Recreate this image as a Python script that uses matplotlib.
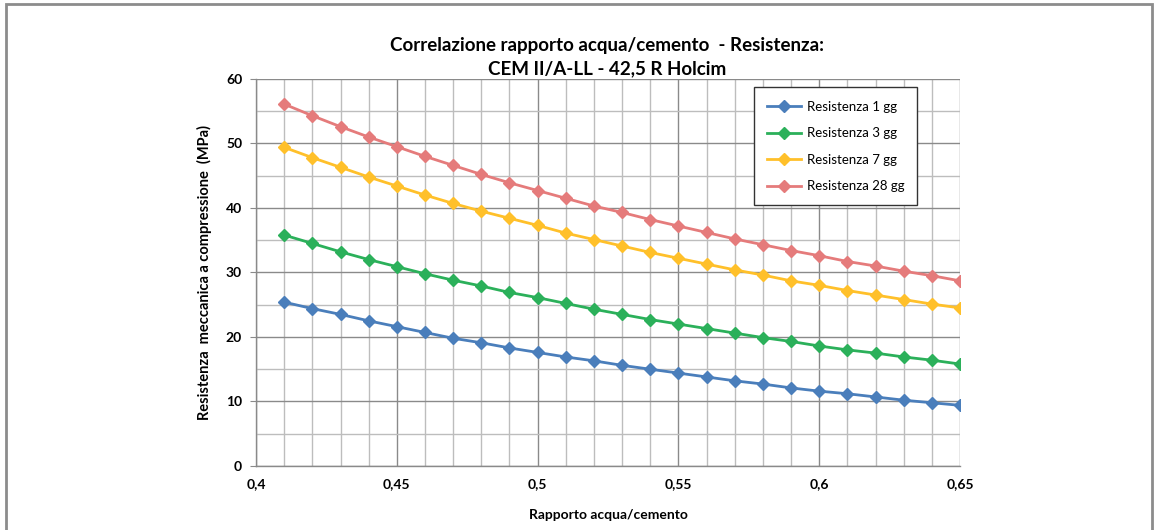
"""Correlazione rapporto acqua/cemento - Resistenza (CEM II/A-LL 42,5 R Holcim)."""

import matplotlib
matplotlib.use("Agg")
import matplotlib.pyplot as plt
from matplotlib.patches import Rectangle
from matplotlib.ticker import MultipleLocator

plt.rcParams.update({
    "font.family": ["Lato", "DejaVu Sans"],
    "font.size": 10,
})

# ── Data ───────────────────────────────────────────────────────────────────
wc_ratio = [0.41, 0.42, 0.43, 0.44, 0.45, 0.46, 0.47, 0.48, 0.49, 0.50,
            0.51, 0.52, 0.53, 0.54, 0.55, 0.56, 0.57, 0.58, 0.59, 0.60,
            0.61, 0.62, 0.63, 0.64, 0.65]

res_1gg = [25.4, 24.4, 23.5, 22.5, 21.6, 20.7, 19.8, 19.1, 18.3, 17.6,
           16.9, 16.3, 15.6, 15.0, 14.4, 13.8, 13.2, 12.7, 12.1, 11.6,
           11.2, 10.7, 10.2, 9.8, 9.4]
res_3gg = [35.8, 34.5, 33.2, 32.0, 30.9, 29.8, 28.8, 27.9, 26.9, 26.1,
           25.2, 24.3, 23.5, 22.7, 22.0, 21.3, 20.6, 19.9, 19.3, 18.6,
           18.0, 17.5, 16.9, 16.4, 15.8]
res_7gg = [49.4, 47.8, 46.3, 44.8, 43.4, 42.0, 40.7, 39.5, 38.4, 37.3,
           36.1, 35.1, 34.1, 33.1, 32.2, 31.3, 30.4, 29.6, 28.7, 28.0,
           27.2, 26.5, 25.8, 25.1, 24.5]
res_28gg = [56.1, 54.3, 52.6, 51.0, 49.5, 48.0, 46.6, 45.2, 43.9, 42.7,
            41.5, 40.3, 39.3, 38.2, 37.2, 36.2, 35.2, 34.3, 33.4, 32.6,
            31.7, 31.0, 30.2, 29.5, 28.7]

series_labels = ["Resistenza 1 gg", "Resistenza 3 gg",
                 "Resistenza 7 gg", "Resistenza 28 gg"]
series_colors = ["#4a7ebb", "#2bb05a", "#ffc02a", "#e57b7b"]

x_ticks = [0.40, 0.45, 0.50, 0.55, 0.60, 0.65]
x_ticklabels = ["0,4", "0,45", "0,5", "0,55", "0,6", "0,65"]
y_ticks = [0, 10, 20, 30, 40, 50, 60]

# ── Plot ───────────────────────────────────────────────────────────────────
fig = plt.figure(figsize=(11.58, 5.30), dpi=100)
ax = fig.add_axes([0.2211, 0.1208, 0.6080, 0.7302])

# chart-area border (Excel style)
fig.patches.append(Rectangle((0.0055, -0.05), 0.9890, 1.043,
                             transform=fig.transFigure, fill=False,
                             edgecolor="#8c8c8c", linewidth=2.0))

for vals, lab, col in zip([res_1gg, res_3gg, res_7gg, res_28gg],
                          series_labels, series_colors):
    ax.plot(wc_ratio, vals, color=col, linewidth=2.0, marker="D",
            markersize=6.5, label=lab, zorder=3)

ax.set_xlim(0.40, 0.65)
ax.set_ylim(0, 60)
ax.set_xticks(x_ticks)
ax.set_xticklabels(x_ticklabels)
ax.set_yticks(y_ticks)
ax.xaxis.set_minor_locator(MultipleLocator(0.01))
ax.yaxis.set_minor_locator(MultipleLocator(5))

ax.grid(which="major", color="#8a8a8a", linewidth=1.0)
ax.grid(which="minor", color="#bdbdbd", linewidth=1.0)
ax.set_axisbelow(True)

for side in ("top", "right"):
    ax.spines[side].set_visible(False)
for side in ("left", "bottom"):
    ax.spines[side].set_color("#8a8a8a")
    ax.spines[side].set_linewidth(1.0)

ax.tick_params(axis="both", which="major", length=4, color="#8a8a8a",
               labelsize=10, pad=6)
ax.tick_params(axis="both", which="minor", length=0)
ax.tick_params(axis="x", which="major", length=0, pad=9)
for t in ax.get_xticklabels() + ax.get_yticklabels():
    t.set_fontweight("bold")

ax.set_xlabel("Rapporto acqua/cemento", fontsize=10, fontweight="bold",
              labelpad=13)
ax.set_ylabel("Resistenza  meccanica a compressione  (MPa)", fontsize=10.5,
              fontweight="bold", labelpad=10)

fig.text(0.524, 0.915, "Correlazione rapporto acqua/cemento  - Resistenza:",
         ha="center", va="center", fontsize=13.5, fontweight="bold")
fig.text(0.524, 0.870, "CEM II/A-LL - 42,5 R Holcim",
         ha="center", va="center", fontsize=13.5, fontweight="bold")

leg = ax.legend(loc="upper left", bbox_to_anchor=(0.707, 0.978),
                fontsize=9.5, frameon=True, fancybox=False,
                handlelength=2.6, labelspacing=1.1, borderpad=1.0,
                handletextpad=0.4, borderaxespad=0)
leg.get_frame().set_edgecolor("#333333")
leg.get_frame().set_linewidth(1.0)
leg.get_frame().set_alpha(1.0)

fig.savefig("out.png", dpi=100)
plt.close(fig)
